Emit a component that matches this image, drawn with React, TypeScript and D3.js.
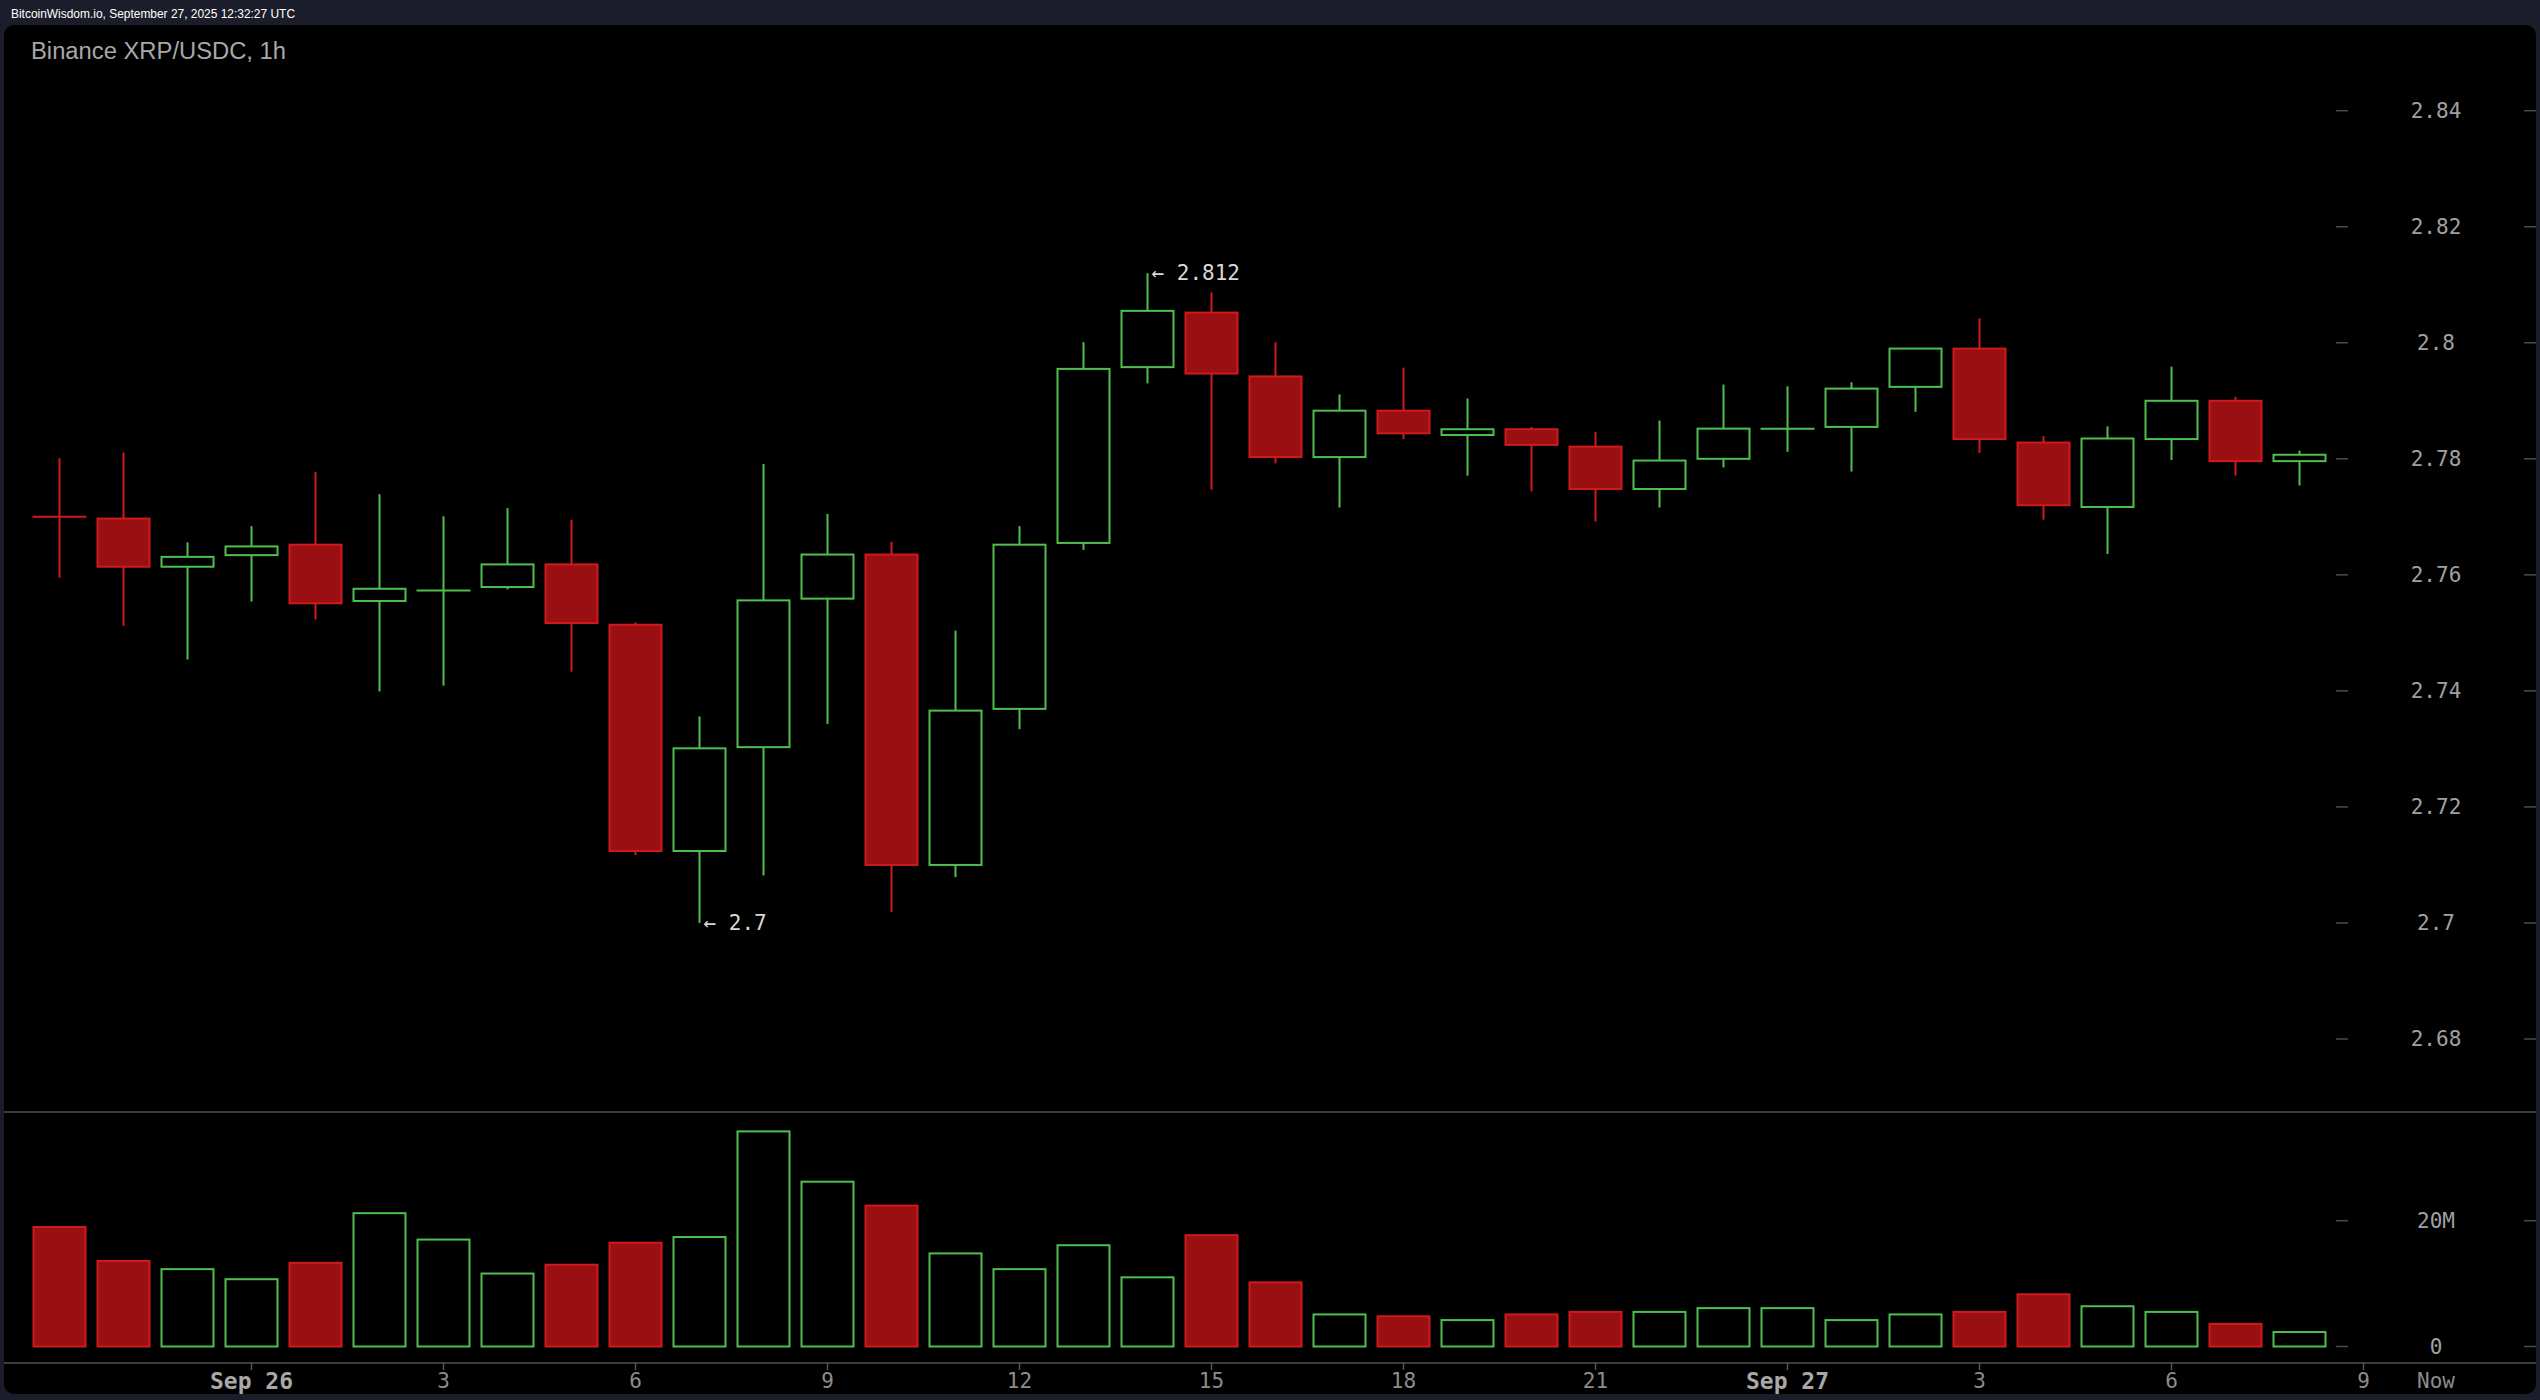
import React from "react";
import * as d3 from "d3";

const W = 2540;
const H = 1400;

const headerText = "BitcoinWisdom.io, September 27, 2025 12:32:27 UTC";
const titleText = "Binance XRP/USDC, 1h";

const times = [
  "2025-09-25T21:00Z", "2025-09-25T22:00Z", "2025-09-25T23:00Z",
  "2025-09-26T00:00Z", "2025-09-26T01:00Z", "2025-09-26T02:00Z",
  "2025-09-26T03:00Z", "2025-09-26T04:00Z", "2025-09-26T05:00Z",
  "2025-09-26T06:00Z", "2025-09-26T07:00Z", "2025-09-26T08:00Z",
  "2025-09-26T09:00Z", "2025-09-26T10:00Z", "2025-09-26T11:00Z",
  "2025-09-26T12:00Z", "2025-09-26T13:00Z", "2025-09-26T14:00Z",
  "2025-09-26T15:00Z", "2025-09-26T16:00Z", "2025-09-26T17:00Z",
  "2025-09-26T18:00Z", "2025-09-26T19:00Z", "2025-09-26T20:00Z",
  "2025-09-26T21:00Z", "2025-09-26T22:00Z", "2025-09-26T23:00Z",
  "2025-09-27T00:00Z", "2025-09-27T01:00Z", "2025-09-27T02:00Z",
  "2025-09-27T03:00Z", "2025-09-27T04:00Z", "2025-09-27T05:00Z",
  "2025-09-27T06:00Z", "2025-09-27T07:00Z", "2025-09-27T08:00Z",
];

const opens = [
  2.7700, 2.7697, 2.7614, 2.7634, 2.7652, 2.7555, 2.7572, 2.7579, 2.7618,
  2.7514, 2.7124, 2.7303, 2.7559, 2.7635, 2.7100, 2.7369, 2.7655, 2.7958,
  2.8052, 2.7942, 2.7803, 2.7883, 2.7841, 2.7851, 2.7821, 2.7748, 2.7800,
  2.7851, 2.7855, 2.7924, 2.7990, 2.7828, 2.7717, 2.7834, 2.7900, 2.7796,
];
const highs = [
  2.7801, 2.7811, 2.7656, 2.7684, 2.7777, 2.7739, 2.7701, 2.7715, 2.7695,
  2.7518, 2.7356, 2.7791, 2.7705, 2.7657, 2.7504, 2.7684, 2.8001, 2.812,
  2.8087, 2.8001, 2.7911, 2.7957, 2.7904, 2.7855, 2.7846, 2.7866, 2.7928,
  2.7925, 2.7932, 2.7990, 2.8042, 2.7839, 2.7856, 2.7959, 2.7907, 2.7814,
];
const lows = [
  2.7595, 2.7512, 2.7454, 2.7554, 2.7523, 2.7399, 2.7409, 2.7575, 2.7433,
  2.7117, 2.7, 2.7082, 2.7343, 2.7019, 2.7079, 2.7334, 2.7643, 2.7930,
  2.7747, 2.7792, 2.7716, 2.7834, 2.7771, 2.7744, 2.7692, 2.7716, 2.7785,
  2.7812, 2.7778, 2.7881, 2.7810, 2.7695, 2.7636, 2.7798, 2.7771, 2.7754,
];
const closes = [
  2.7699, 2.7614, 2.7631, 2.7649, 2.7551, 2.7576, 2.7573, 2.7618, 2.7517,
  2.7124, 2.7301, 2.7556, 2.7635, 2.7100, 2.7366, 2.7652, 2.7955, 2.8055,
  2.7947, 2.7803, 2.7883, 2.7844, 2.7851, 2.7824, 2.7748, 2.7797, 2.7852,
  2.7852, 2.7921, 2.7990, 2.7834, 2.7720, 2.7835, 2.7900, 2.7796, 2.7807,
];
// volume in millions
const volumes = [
  19.0, 13.6, 12.3, 10.7, 13.3, 21.2, 17.0, 11.6, 13.0, 16.5, 17.4, 34.2,
  26.2, 22.4, 14.8, 12.3, 16.1, 11.0, 17.7, 10.2, 5.1, 4.8, 4.2, 5.1,
  5.5, 5.5, 6.1, 6.1, 4.2, 5.1, 5.5, 8.3, 6.4, 5.5, 3.6, 2.3,
];

const priceTicks = [2.68, 2.7, 2.72, 2.74, 2.76, 2.78, 2.8, 2.82, 2.84];
const volumeTicks = [0, 20];
const volumeTickLabels = ["0", "20M"];

const GREEN = "#4fbf4f";
const RED_STROKE = "#cf1a1e";
const RED_FILL = "#9a0f11";
const MONO = "'DejaVu Sans Mono', monospace";
const SANS = "'Liberation Sans', Arial, sans-serif";

export default function App() {
  const data = times.map((t, i) => ({
    t: new Date(t),
    o: opens[i],
    h: highs[i],
    l: lows[i],
    c: closes[i],
    v: volumes[i],
  }));

  const x = d3
    .scaleUtc()
    .domain([new Date("2025-09-25T21:00Z"), new Date("2025-09-27T09:00Z")])
    .range([59.5, 2363.5]);
  const y = d3.scaleLinear().domain([2.68, 2.84]).range([1039, 110.7]);
  const yv = d3.scaleLinear().domain([0, 20]).range([1346.5, 1220.7]);

  const bodyW = 52;
  const xTicks = x
    .ticks(d3.utcHour.every(3) as any)
    .filter((t) => t > x.domain()[0]);
  const fmtDay = d3.utcFormat("%b %-d");
  const fmtHour = d3.utcFormat("%-H");
  const fmtPrice = d3.format(".2~f");

  const maxIdx = d3.maxIndex(data, (d) => d.h);
  const minIdx = d3.minIndex(data, (d) => d.l);

  const axisX = 2436;

  return (
    <svg
      width={W}
      height={H}
      style={{ position: "fixed", left: 0, top: 0, display: "block" }}
    >
      <rect x={0} y={0} width={W} height={H} fill="#1b1e2a" />
      <text
        x={11}
        y={18}
        fontFamily={SANS}
        fontSize={12}
        fill="#ffffff"
        textLength={284}
        lengthAdjust="spacingAndGlyphs"
      >
        {headerText}
      </text>
      <rect x={4} y={25} width={2532} height={1369} rx={10} fill="#000" />
      <text
        x={31}
        y={59}
        fontFamily={SANS}
        fontSize={23}
        fill="#a8a8a8"
        textLength={255}
        lengthAdjust="spacingAndGlyphs"
      >
        {titleText}
      </text>

      {/* separators */}
      <line x1={4} x2={2536} y1={1112} y2={1112} stroke="#3c3c3c" strokeWidth={2} />
      <line x1={4} x2={2536} y1={1363} y2={1363} stroke="#3c3c3c" strokeWidth={2} />

      {/* price axis */}
      {priceTicks.map((p) => (
        <g key={p}>
          <line x1={2336} x2={2348} y1={y(p)} y2={y(p)} stroke="#4a4a4a" strokeWidth={1.5} />
          <line x1={2524} x2={2536} y1={y(p)} y2={y(p)} stroke="#4a4a4a" strokeWidth={1.5} />
          <text
            x={axisX}
            y={y(p)}
            textAnchor="middle"
            dominantBaseline="central"
            fontFamily={MONO}
            fontSize={21}
            fill="#a0a0a0"
          >
            {fmtPrice(p)}
          </text>
        </g>
      ))}

      {/* volume axis */}
      {volumeTicks.map((v, i) => (
        <g key={v}>
          <line x1={2336} x2={2348} y1={yv(v)} y2={yv(v)} stroke="#4a4a4a" strokeWidth={1.5} />
          <line x1={2524} x2={2536} y1={yv(v)} y2={yv(v)} stroke="#4a4a4a" strokeWidth={1.5} />
          <text
            x={axisX}
            y={yv(v)}
            textAnchor="middle"
            dominantBaseline="central"
            fontFamily={MONO}
            fontSize={21}
            fill="#a0a0a0"
          >
            {volumeTickLabels[i]}
          </text>
        </g>
      ))}

      {/* x axis */}
      {xTicks.map((t) => {
        const isDay = t.getUTCHours() === 0;
        return (
          <g key={t.getTime()}>
            <line x1={x(t)} x2={x(t)} y1={1363} y2={1370} stroke="#555" strokeWidth={1.5} />
            <text
              x={x(t)}
              y={1381}
              textAnchor="middle"
              dominantBaseline="central"
              fontFamily={MONO}
              fontSize={isDay ? 23 : 21}
              fontWeight={isDay ? "bold" : "normal"}
              fill={isDay ? "#a8a8a8" : "#8c8c8c"}
            >
              {isDay ? fmtDay(t) : fmtHour(t)}
            </text>
          </g>
        );
      })}
      <text
        x={axisX}
        y={1381}
        textAnchor="middle"
        dominantBaseline="central"
        fontFamily={MONO}
        fontSize={21}
        fill="#8c8c8c"
      >
        Now
      </text>

      {/* candles */}
      {data.map((d, i) => {
        const up = d.c >= d.o;
        const col = up ? GREEN : RED_STROKE;
        const cx = x(d.t);
        const top = y(Math.max(d.o, d.c));
        const bot = y(Math.min(d.o, d.c));
        return (
          <g key={i}>
            <line x1={cx} x2={cx} y1={y(d.h)} y2={y(d.l)} stroke={col} strokeWidth={2} />
            {bot - top < 1.5 ? (
              <line
                x1={cx - bodyW / 2 - 1}
                x2={cx + bodyW / 2 + 1}
                y1={top}
                y2={top}
                stroke={col}
                strokeWidth={2}
              />
            ) : (
              <rect
                x={cx - bodyW / 2}
                y={top}
                width={bodyW}
                height={bot - top}
                fill={up ? "#000" : RED_FILL}
                stroke={col}
                strokeWidth={2}
              />
            )}
          </g>
        );
      })}

      {/* volume bars */}
      {data.map((d, i) => {
        const up = d.c >= d.o;
        const cx = x(d.t);
        return (
          <rect
            key={i}
            x={cx - bodyW / 2}
            y={yv(d.v)}
            width={bodyW}
            height={yv(0) - yv(d.v)}
            fill={up ? "#000" : RED_FILL}
            stroke={up ? GREEN : RED_STROKE}
            strokeWidth={2}
          />
        );
      })}

      {/* high / low annotations */}
      <text
        x={x(data[maxIdx].t) + 4}
        y={y(data[maxIdx].h)}
        dominantBaseline="central"
        fontFamily={MONO}
        fontSize={21}
        fill="#d8d8d8"
      >
        {"\u2190 " + String(data[maxIdx].h)}
      </text>
      <text
        x={x(data[minIdx].t) + 4}
        y={y(data[minIdx].l)}
        dominantBaseline="central"
        fontFamily={MONO}
        fontSize={21}
        fill="#d8d8d8"
      >
        {"\u2190 " + String(data[minIdx].l)}
      </text>
    </svg>
  );
}
